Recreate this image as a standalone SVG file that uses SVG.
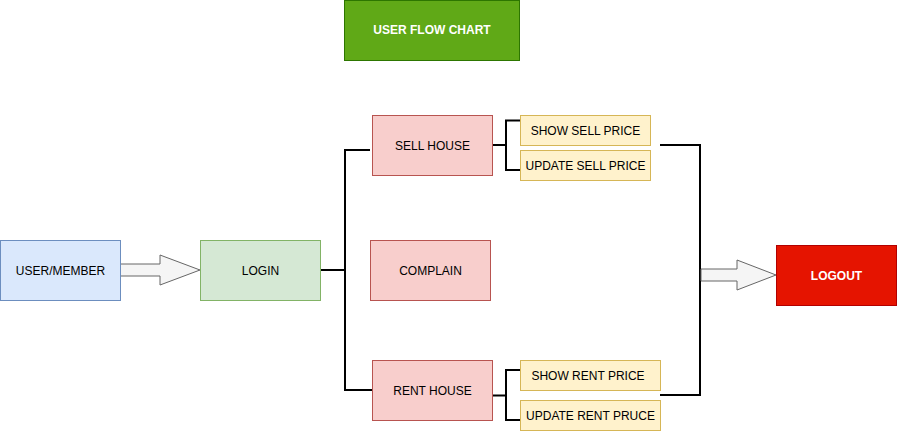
<svg xmlns="http://www.w3.org/2000/svg" width="897" height="431" viewBox="0 0 897 431">
<style>
  .lbl { font-family: "Liberation Sans", Arial, sans-serif; font-size: 12px; fill: #000000; text-anchor: middle; dominant-baseline: central; }
  .wlbl { font-family: "Liberation Sans", Arial, sans-serif; font-size: 12px; font-weight: bold; fill: #ffffff; text-anchor: middle; dominant-baseline: central; }
  .blue { fill: #dae8fc; stroke: #6c8ebf; stroke-width: 1; }
  .green { fill: #d5e8d4; stroke: #82b366; stroke-width: 1; }
  .red { fill: #f8cecc; stroke: #b85450; stroke-width: 1; }
  .yellow { fill: #fff2cc; stroke: #d6b656; stroke-width: 1; }
  .edge { fill: none; stroke: #000000; stroke-width: 2; }
  .flat { fill: #f5f5f5; stroke: #666666; stroke-width: 1; }
</style>
<rect width="897" height="431" fill="#ffffff"/>
<g id="connectors">
  <polyline class="edge" points="320,270 345,270"/>
  <polyline class="edge" points="370,150 345,150 345,390 372,390"/>
  <polyline class="edge" points="492,145 506,145"/>
  <polyline class="edge" points="520,120.5 506,120.5 506,170 520,170"/>
  <polyline class="edge" points="492,395.5 506,395.5"/>
  <polyline class="edge" points="520,370 506,370 506,420 520,420"/>
  <polyline class="edge" points="660,145 700,145 700,395 660,395"/>
  <polygon class="flat" points="120.5,264 160,264 160,255 200,270 160,285 160,276 120.5,276"/>
  <polygon class="flat" points="701,269 737,269 737,260 776,275 737,290 737,281 701,281"/>
</g>
<g id="title">
  <rect x="344.5" y="0.5" width="175" height="60" fill="#60a917" stroke="#2d7600"/>
  <text class="wlbl" x="432" y="30">USER FLOW CHART</text>
</g>
<g id="user">
  <rect class="blue" x="0.5" y="240.5" width="120" height="60"/>
  <text class="lbl" x="60.5" y="270.5">USER/MEMBER</text>
</g>
<g id="login">
  <rect class="green" x="200.5" y="240.5" width="120" height="60"/>
  <text class="lbl" x="260.5" y="270.5">LOGIN</text>
</g>
<g id="sellhouse">
  <rect class="red" x="372.5" y="115.5" width="120" height="60"/>
  <text class="lbl" x="432.5" y="145.5">SELL HOUSE</text>
</g>
<g id="complain">
  <rect class="red" x="370.5" y="240.5" width="120" height="60"/>
  <text class="lbl" x="430.5" y="270.5">COMPLAIN</text>
</g>
<g id="renthouse">
  <rect class="red" x="372.5" y="360.5" width="120" height="60"/>
  <text class="lbl" x="432.5" y="390.5">RENT HOUSE</text>
</g>
<g id="showsell">
  <rect class="yellow" x="520.5" y="115.5" width="130" height="30"/>
  <text class="lbl" x="585.5" y="130.5">SHOW SELL PRICE</text>
</g>
<g id="updatesell">
  <rect class="yellow" x="520.5" y="150.5" width="130" height="30"/>
  <text class="lbl" x="585.5" y="165.5">UPDATE SELL PRICE</text>
</g>
<g id="showrent">
  <rect class="yellow" x="520.5" y="360.5" width="140" height="30"/>
  <text class="lbl" x="588" y="375.5">SHOW RENT PRICE</text>
</g>
<g id="updaterent">
  <rect class="yellow" x="520.5" y="400.5" width="140" height="30"/>
  <text class="lbl" x="590.5" y="415.5">UPDATE RENT PRUCE</text>
</g>
<g id="logout">
  <rect x="776.5" y="245.5" width="120" height="60" fill="#e51400" stroke="#b20000"/>
  <text class="wlbl" x="836.5" y="275.5">LOGOUT</text>
</g>
</svg>
